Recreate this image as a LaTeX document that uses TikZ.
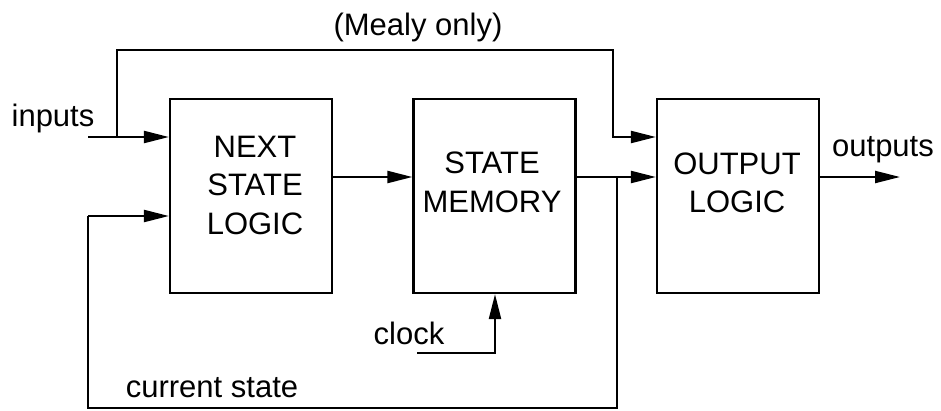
\documentclass[tikz,border=0pt]{standalone}
\usepackage{fontspec}
\setmainfont{Liberation Sans}
\usetikzlibrary{arrows.meta}
\begin{document}
\begin{tikzpicture}[x=1pt,y=-1pt,
  blk/.style={draw, line width=2.2pt, minimum width=162pt, minimum height=194pt, inner sep=0pt},
  txt/.style={font=\fontsize{31}{38.5}\selectfont, align=center, inner sep=0pt},
  lbl/.style={font=\fontsize{31}{36}\selectfont, inner sep=0pt},
  wire/.style={line width=2.2pt},
  arr/.style={wire, -{Triangle[length=25pt,width=12pt]}}]
\useasboundingbox (0,0) rectangle (941,410);
% blocks
\node[blk] (b1) at (251,196) {};
\node[blk] (b2) at (494.5,196) {};
\node[blk] (b3) at (738,196) {};
\node[txt] (t1) at (255,185) {NEXT\\STATE\\LOGIC};
\node[txt] (t2) at (492,182.5) {STATE\\MEMORY};
\node[txt] (t3) at (737,183) {OUTPUT\\LOGIC};
% labels
\node[lbl] (linputs) at (53,118) {inputs};
\node[lbl] (lmealy) at (418,27) {(Mealy only)};
\node[lbl] (loutputs) at (883,150) {outputs};
\node[lbl] (lclock) at (409,333) {clock};
\node[lbl] (lcur) at (212,388) {current state};
% coordinates
\coordinate (in) at (88,137);
\coordinate (mj) at (117,137);
\coordinate (mt1) at (117,50);
\coordinate (mt2) at (613,50);
\coordinate (mt3) at (613,137);
\coordinate (s1) at (332,177);
\coordinate (s2) at (576,177);
\coordinate (br) at (617,177);
\coordinate (fb1) at (617,408);
\coordinate (fb2) at (88,408);
\coordinate (fb3) at (88,216);
\coordinate (ck1) at (417,353);
\coordinate (ck2) at (495,353);
\coordinate (o1) at (819,177);
\coordinate (o2) at (900,177);
% wires
\draw[arr] (in) -- (in -| b1.west);
\draw[arr] (mj) -- (mt1) -- (mt2) -- (mt3) -- (mt3 -| b3.west);
\draw[arr] (s1) -- (s1 -| b2.west);
\draw[arr] (s2) -- (s2 -| b3.west);
\draw[wire] (br) -- (fb1) -- (fb2) -- (fb3);
\draw[arr] (fb3) -- (fb3 -| b1.west);
\draw[arr] (ck1) -- (ck2) -- (ck2 |- b2.south);
\draw[arr] (o1) -- (o2);
\end{tikzpicture}
\end{document}
